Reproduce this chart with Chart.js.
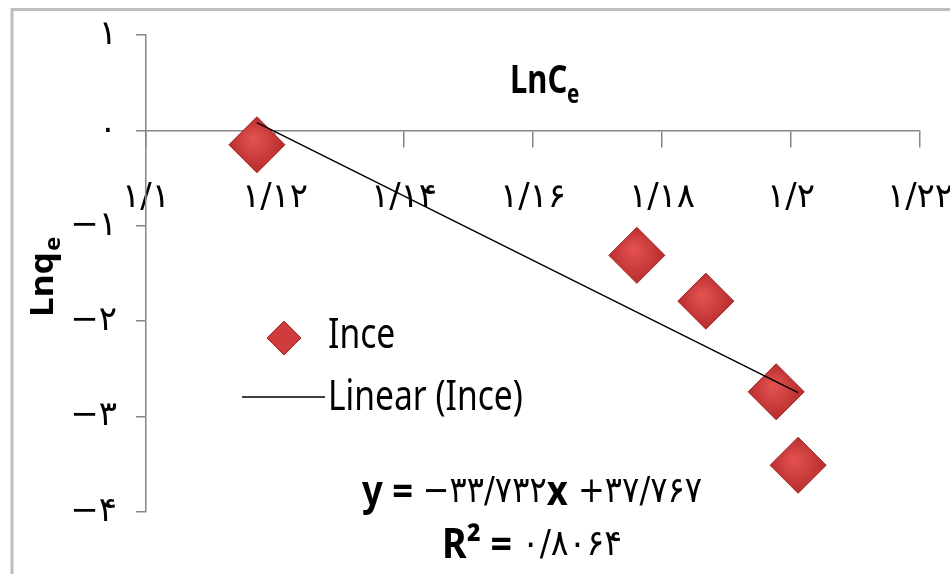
<!DOCTYPE html>
<html>
<head>
<meta charset="utf-8">
<script src="https://cdn.jsdelivr.net/npm/chart.js@4.4.1/dist/chart.umd.min.js"></script>
<style>
  html, body { margin: 0; padding: 0; background: #fff; }
</style>
</head>
<body>
<canvas id="graficoIsoterma" width="950" height="574"></canvas>
<script>
// valores (LnCe, Lnqe)
const lnCe = [1.1172, 1.1761, 1.1868, 1.1977, 1.2011];
const lnQe = [-0.15, -1.31, -1.79, -2.74, -3.51];
const xTickLabels = ["۱/۱", "۱/۱۲", "۱/۱۴", "۱/۱۶", "۱/۱۸", "۱/۲", "۱/۲۲"];
const yTickLabels = ["−۴", "−۳", "−۲", "−۱", "۰", "۱"];
const seriesName = "Ince";
const slope = -33.732;
const intercept = 37.767;
const rSquared = 0.8064;

const persianDigits = "۰۱۲۳۴۵۶۷۸۹";
function fa(n) {
  return String(n).replace(/[0-9]/g, d => persianDigits[d]).replace(".", "/").replace("-", "−");
}

const xMin = Math.min(...lnCe);
const xMax = Math.max(...lnCe);
const trend = [
  { x: xMin, y: slope * xMin + intercept },
  { x: xMax, y: slope * xMax + intercept },
];

const red = "#cf3a3a";
function diamondFill(c) {
  const chart = c.chart;
  if (!c.parsed || !chart.chartArea) return red;
  const px = chart.scales.x.getPixelForValue(c.parsed.x);
  const py = chart.scales.y.getPixelForValue(c.parsed.y);
  const g = chart.ctx.createRadialGradient(px - 4, py - 6, 2, px, py, 30);
  g.addColorStop(0, "#e25050");
  g.addColorStop(1, "#b52a2a");
  return g;
}

function drawScaled(ctx, text, x, y, font, sx, sy, align) {
  ctx.save();
  ctx.font = font;
  ctx.textAlign = align || "left";
  ctx.textBaseline = "middle";
  ctx.translate(x, y);
  ctx.scale(sx, sy);
  ctx.fillText(text, 0, 0);
  ctx.restore();
}

// linha de texto com partes em negrito, centrada e ajustada a uma largura
function drawRich(ctx, parts, cx, cy, width, sy) {
  let natural = 0;
  parts.forEach(p => { ctx.font = p.font; p.w = ctx.measureText(p.text).width; natural += p.w; });
  const sx = width / natural;
  let x = cx - width / 2;
  parts.forEach(p => {
    drawScaled(ctx, p.text, x, cy, p.font, sx, sy, "left");
    x += p.w * sx;
  });
}

const extras = {
  id: "extras",
  beforeDraw(chart) {
    const ctx = chart.ctx;
    ctx.save();
    ctx.fillStyle = "#fff";
    ctx.fillRect(0, 0, chart.width, chart.height);
    ctx.strokeStyle = "#bdbdbd";
    ctx.lineWidth = 3;
    ctx.beginPath();
    ctx.moveTo(12, chart.height + 5);
    ctx.lineTo(12, 9.5);
    ctx.lineTo(chart.width + 5, 9.5);
    ctx.stroke();
    ctx.restore();
  },
  afterDraw(chart) {
    const ctx = chart.ctx;
    ctx.save();
    ctx.fillStyle = "#000";

    // título do eixo x
    drawScaled(ctx, "LnC", 510, 82, "bold 36px 'Noto Sans'", 0.86, 1.1, "left");
    drawScaled(ctx, "e", 567, 95, "bold 24px 'Noto Sans'", 0.86, 1.1, "left");

    // título do eixo y (rodado)
    ctx.save();
    ctx.translate(44, 317);
    ctx.rotate(-Math.PI / 2);
    drawScaled(ctx, "Lnq", 0, 0, "bold 32px 'Noto Sans'", 1.1, 1, "left");
    drawScaled(ctx, "e", 66, 10, "bold 22px 'Noto Sans'", 1.1, 1, "left");
    ctx.restore();

    // legenda
    ctx.fillStyle = red;
    ctx.strokeStyle = "#a52828";
    ctx.lineWidth = 1;
    Chart.helpers.drawPoint(ctx, { pointStyle: "rectRot", radius: 17, borderWidth: 1 }, 284, 338);
    ctx.fillStyle = "#000";
    drawScaled(ctx, seriesName, 328, 336, "42px 'Noto Sans'", 0.8, 1, "left");
    ctx.strokeStyle = "#000";
    ctx.lineWidth = 1.5;
    ctx.beginPath();
    ctx.moveTo(242, 397);
    ctx.lineTo(325, 397);
    ctx.stroke();
    drawScaled(ctx, "Linear (" + seriesName + ")", 328, 398, "42px 'Noto Sans'", 0.8, 1, "left");

    // equação da reta
    const bold = "bold 34px 'Noto Sans'";
    const reg = "30px 'DejaVu Sans'";
    drawRich(ctx, [
      { text: "y = ", font: bold },
      { text: fa(slope), font: reg },
      { text: "x", font: bold },
      { text: " +" + fa(intercept), font: reg },
    ], 532, 493, 340, 1.2);
    drawRich(ctx, [
      { text: "R² = ", font: bold },
      { text: fa(rSquared), font: reg },
    ], 532, 546, 180, 1.2);
    ctx.restore();
  },
};

new Chart(document.getElementById("graficoIsoterma"), {
  type: "scatter",
  data: {
    datasets: [
      {
        label: "Linear (" + seriesName + ")",
        data: trend,
        showLine: true,
        borderColor: "#000",
        borderWidth: 1.5,
        pointRadius: 0,
        order: 0,
      },
      {
        label: seriesName,
        data: lnCe.map((x, i) => ({ x: x, y: lnQe[i] })),
        pointStyle: "rectRot",
        pointRadius: 28,
        backgroundColor: diamondFill,
        borderColor: "#9e2424",
        borderWidth: 1,
        order: 1,
      },
    ],
  },
  options: {
    responsive: false,
    animation: false,
    layout: { padding: { left: 0, right: 30, top: 35, bottom: 62 } },
    plugins: { legend: { display: false }, tooltip: { enabled: false } },
    scales: {
      x: {
        type: "linear",
        position: { y: 0 },
        min: 1.1,
        max: 1.22,
        afterBuildTicks: s => { s.ticks = xTickLabels.map((t, i) => ({ value: 1.1 + i * 0.02 })); },
        afterFit: s => { s.paddingLeft = 0; s.paddingRight = 0; s.height = 0; },
        grid: { drawOnChartArea: false, tickLength: 16, color: "#868686", lineWidth: 1.5 },
        border: { color: "#868686", width: 1.5 },
        ticks: {
          padding: 31,
          color: "#000",
          font: { family: "'DejaVu Sans'", size: 34 },
          maxRotation: 0,
          autoSkip: false,
          callback: (v, i) => xTickLabels[i],
        },
      },
      y: {
        type: "linear",
        position: "left",
        min: -4,
        max: 1,
        afterBuildTicks: s => { s.ticks = yTickLabels.map((t, i) => ({ value: -4 + i })); },
        afterFit: s => { s.width = 146; s.paddingTop = 0; s.paddingBottom = 0; },
        grid: { drawOnChartArea: false, tickLength: 10, color: "#868686", lineWidth: 1.5 },
        border: { color: "#868686", width: 1.5 },
        ticks: {
          padding: 19,
          color: "#000",
          font: { family: "'DejaVu Sans'", size: 34 },
          callback: (v, i) => yTickLabels[i],
        },
      },
    },
  },
  plugins: [extras],
});
</script>
</body>
</html>
